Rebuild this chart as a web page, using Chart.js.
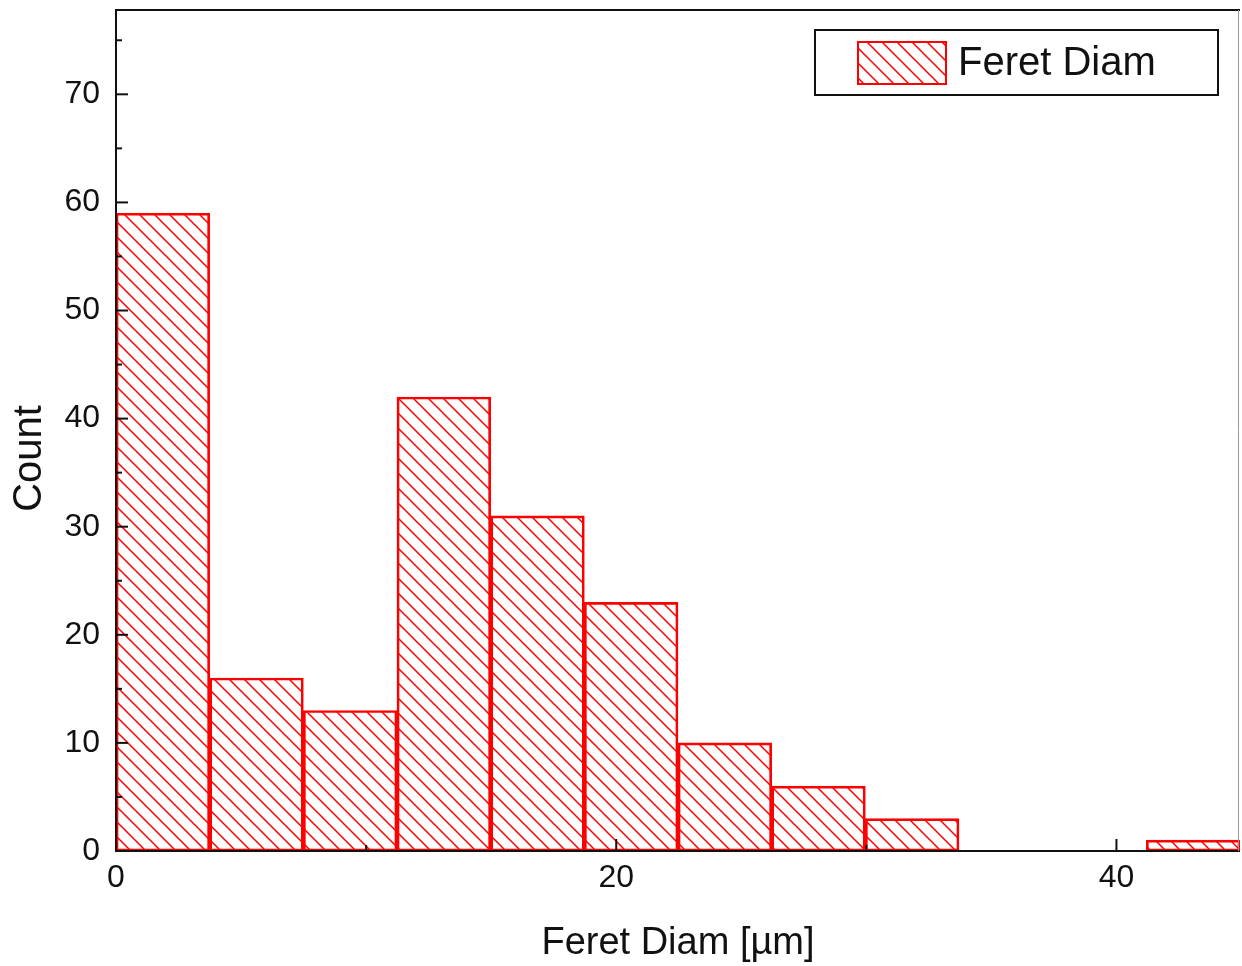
<!DOCTYPE html>
<html>
<head>
<meta charset="utf-8">
<title>Feret Diam histogram</title>
<script src="https://cdn.jsdelivr.net/npm/chart.js@4.4.1/dist/chart.umd.min.js"></script>
<style>
  html, body { margin: 0; padding: 0; background: #fff; overflow: hidden; }
  #wrap { width: 1242px; height: 966px; position: relative; }
</style>
</head>
<body>
<div id="wrap"><canvas id="histChart"></canvas></div>
<script>
// histogram data
const binWidth = 3.745;
const binStarts = [0, 3.745, 7.49, 11.235, 14.98, 18.725, 22.47, 26.215, 29.96, 33.705, 37.45, 41.195];
const counts = [59, 16, 13, 42, 31, 23, 10, 6, 3, 0, 0, 1];
const xTickValues = [0, 20, 40];
const yTickValues = [0, 10, 20, 30, 40, 50, 60, 70];
const seriesLabel = 'Feret Diam';
const yTitle = 'Count';

const RED = '#ff0000';
const INK = '#111';
const FONT = '"Liberation Sans", Arial, sans-serif';

// diagonal "\\\" hatch
function makeHatch(color) {
  const size = 15;
  const c = document.createElement('canvas');
  c.width = size;
  c.height = size;
  const g = c.getContext('2d');
  g.strokeStyle = color;
  g.lineWidth = 1.5;
  g.beginPath();
  g.moveTo(-3, -3); g.lineTo(size + 3, size + 3);
  g.moveTo(-3, size - 3); g.lineTo(3, size + 3);
  g.moveTo(size - 3, -3); g.lineTo(size + 3, 3);
  g.stroke();
  return g.createPattern(c, 'repeat');
}
const hatch = makeHatch(RED);

const points = binStarts.map((s, i) => ({ x: s + binWidth / 2, y: counts[i] }));

// inward ticks + frame + boxed legend + y title
const frameAndTicks = {
  id: 'frameAndTicks',
  afterDatasetsDraw(chart) {
    const { ctx, chartArea: a, scales: { x, y } } = chart;
    const line = (x1, y1, x2, y2) => { ctx.beginPath(); ctx.moveTo(x1, y1); ctx.lineTo(x2, y2); ctx.stroke(); };
    ctx.save();
    ctx.strokeStyle = INK;
    ctx.lineWidth = 2;

    x.ticks.forEach(t => {
      if (t.value % 10 !== 0) return;
      const px = x.getPixelForValue(t.value);
      const len = xTickValues.includes(t.value) ? 12 : 6;
      line(px, a.bottom, px, a.bottom - len);
    });
    y.ticks.forEach(t => {
      if (t.value % 5 !== 0) return;
      const py = y.getPixelForValue(t.value);
      const len = yTickValues.includes(t.value) ? 12 : 6;
      line(a.left, py, a.left + len, py);
    });

    // frame
    line(a.left, a.top, a.right, a.top);
    line(a.left, a.top - 1, a.left, a.bottom + 1);
    line(a.left - 1, a.bottom, a.right, a.bottom);
    ctx.strokeStyle = '#999';
    ctx.lineWidth = 1;
    line(a.right - 1.5, a.top, a.right - 1.5, a.bottom);

    // legend box
    const bx = a.right - 425, by = a.top + 20, bw = 403, bh = 65;
    ctx.strokeStyle = INK;
    ctx.lineWidth = 2;
    ctx.fillStyle = '#fff';
    ctx.fillRect(bx, by, bw, bh);
    ctx.strokeRect(bx, by, bw, bh);
    ctx.fillStyle = hatch;
    ctx.fillRect(bx + 43, by + 12, 88, 42);
    ctx.strokeStyle = RED;
    ctx.strokeRect(bx + 43, by + 12, 88, 42);
    ctx.fillStyle = INK;
    ctx.font = '40px ' + FONT;
    ctx.textBaseline = 'middle';
    ctx.textAlign = 'left';
    ctx.fillText(chart.data.datasets[0].label, bx + 143, by + bh / 2 + 1);

    // y axis title, sits a little below the middle of the axis
    ctx.translate(30, (a.top + a.bottom) / 2 + 28);
    ctx.rotate(-Math.PI / 2);
    ctx.textAlign = 'center';
    ctx.font = '40px ' + FONT;
    ctx.fillText(yTitle, 0, 0);
    ctx.restore();
  }
};

const ctx = document.getElementById('histChart').getContext('2d');
new Chart(ctx, {
  type: 'bar',
  data: {
    datasets: [{
      label: seriesLabel,
      data: points,
      backgroundColor: hatch,
      borderColor: RED,
      borderWidth: c => (c.raw && c.raw.y > 0 ? 2 : 0),
      borderSkipped: false,
      barPercentage: 1,
      categoryPercentage: 1
    }]
  },
  options: {
    responsive: true,
    maintainAspectRatio: false,
    animation: false,
    layout: { padding: { top: 10, right: 2, left: 0, bottom: 0 } },
    plugins: { legend: { display: false }, tooltip: { enabled: false } },
    scales: {
      x: {
        type: 'linear',
        offset: false,
        min: 0,
        max: binStarts[binStarts.length - 1] + binWidth,
        grid: { display: false, drawTicks: false },
        border: { display: false },
        ticks: {
          stepSize: 10,
          includeBounds: false,
          autoSkip: false,
          maxRotation: 0,
          padding: 8,
          color: INK,
          font: { family: FONT, size: 32 },
          callback: v => (xTickValues.includes(v) ? v : '')
        },
        title: {
          display: true,
          text: 'Feret Diam [\u00b5m]',
          color: INK,
          font: { family: FONT, size: 38 },
          padding: { top: 8, bottom: 0 }
        },
        afterFit: s => { s.height = 115; s.paddingLeft = 0; s.paddingRight = 0; }
      },
      y: {
        min: 0,
        max: 77.8,
        grid: { display: false, drawTicks: false },
        border: { display: false },
        ticks: {
          stepSize: 5,
          includeBounds: false,
          autoSkip: false,
          padding: 16,
          color: INK,
          font: { family: FONT, size: 32 },
          callback: v => (yTickValues.includes(v) ? v : '')
        },
        title: { display: false },
        afterFit: s => { s.width = 116; s.paddingTop = 0; s.paddingBottom = 0; }
      }
    }
  },
  plugins: [frameAndTicks]
});
</script>
</body>
</html>
